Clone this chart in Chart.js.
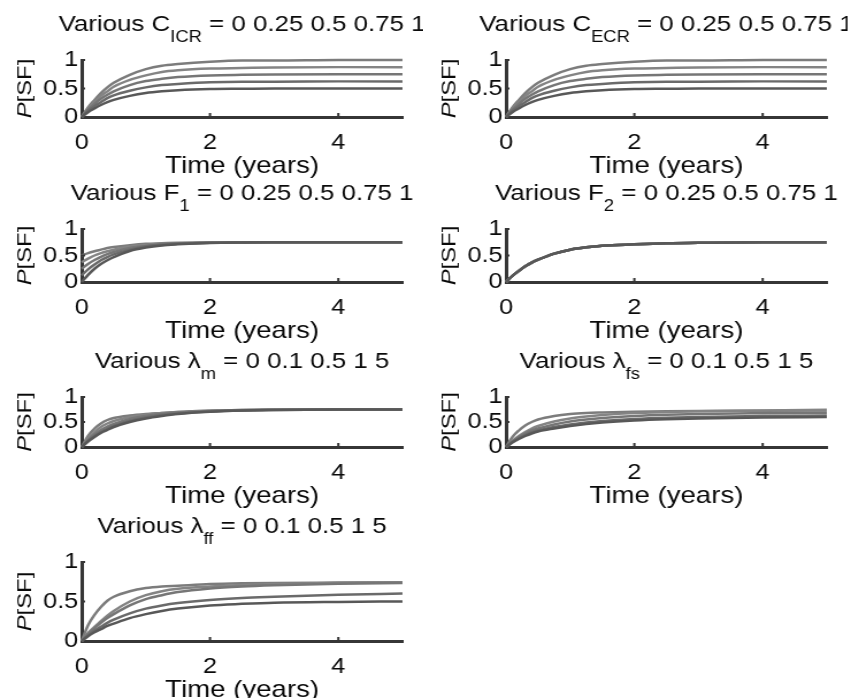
<!DOCTYPE html>
<html>
<head>
<meta charset="utf-8">
<script src="https://cdn.jsdelivr.net/npm/chart.js@4.4.1/dist/chart.umd.min.js"></script>
<style>
  html, body { margin: 0; background: #fff; overflow: hidden; }
  /* a figura toda é levemente esticada na horizontal */
  #figura { position: relative; width: 738px; height: 698px; transform: scaleX(1.15); transform-origin: 0 0; filter: blur(0.45px); }
  #figura canvas { position: absolute; }
</style>
</head>
<body>
<div id="figura"></div>
<script>
// EIXOS

const tempoAnos = [0, 0.1, 0.2, 0.3, 0.4, 0.5, 0.75, 1, 1.25, 1.5, 2, 2.5, 3, 4, 5];
const ticksX = [0, 2, 4];
const ticksY = [0, 0.5, 1];

// P[SF] para C = 0 0.25 0.5 0.75 1 (ICR e ECR dão as mesmas curvas)
const curvasC = [
  [0, 0.085, 0.15, 0.21, 0.26, 0.30, 0.37, 0.42, 0.45, 0.47, 0.49, 0.495, 0.5, 0.5, 0.5],
  [0, 0.11, 0.19, 0.26, 0.33, 0.38, 0.46, 0.52, 0.56, 0.58, 0.61, 0.62, 0.62, 0.625, 0.625],
  [0, 0.13, 0.23, 0.32, 0.39, 0.45, 0.56, 0.63, 0.67, 0.70, 0.73, 0.74, 0.745, 0.75, 0.75],
  [0, 0.15, 0.26, 0.37, 0.45, 0.53, 0.65, 0.73, 0.79, 0.82, 0.85, 0.86, 0.87, 0.875, 0.875],
  [0, 0.17, 0.30, 0.42, 0.52, 0.60, 0.74, 0.84, 0.90, 0.93, 0.97, 0.99, 0.99, 1.0, 1.0],
];

// F1 = 0 0.25 0.5 0.75 1
const curvasF1 = [
  [0, 0.135, 0.25, 0.34, 0.41, 0.47, 0.585, 0.65, 0.69, 0.71, 0.736, 0.745, 0.748, 0.75, 0.75],
  [0.125, 0.24, 0.33, 0.41, 0.47, 0.52, 0.61, 0.67, 0.70, 0.72, 0.739, 0.746, 0.749, 0.75, 0.75],
  [0.25, 0.34, 0.415, 0.475, 0.525, 0.565, 0.64, 0.68, 0.71, 0.725, 0.741, 0.747, 0.749, 0.75, 0.75],
  [0.375, 0.44, 0.50, 0.545, 0.58, 0.61, 0.67, 0.70, 0.72, 0.73, 0.743, 0.747, 0.749, 0.75, 0.75],
  [0.5, 0.545, 0.58, 0.61, 0.64, 0.66, 0.695, 0.72, 0.73, 0.74, 0.745, 0.748, 0.75, 0.75, 0.75],
];

// F2 = 0 0.25 0.5 0.75 1 (curvas sobrepostas)
const curvaF2 = [0, 0.115, 0.21, 0.295, 0.365, 0.42, 0.535, 0.61, 0.655, 0.685, 0.71, 0.73, 0.74, 0.75, 0.75];

// lambda_m = 0 0.1 0.5 1 5
const curvasLm = [
  [0, 0.11, 0.20, 0.28, 0.34, 0.40, 0.50, 0.57, 0.62, 0.66, 0.705, 0.73, 0.74, 0.75, 0.75],
  [0, 0.12, 0.22, 0.30, 0.37, 0.42, 0.52, 0.59, 0.64, 0.67, 0.71, 0.73, 0.74, 0.75, 0.75],
  [0, 0.14, 0.25, 0.34, 0.41, 0.46, 0.56, 0.62, 0.66, 0.69, 0.72, 0.735, 0.745, 0.75, 0.75],
  [0, 0.17, 0.30, 0.40, 0.47, 0.52, 0.60, 0.65, 0.68, 0.70, 0.725, 0.74, 0.745, 0.75, 0.75],
  [0, 0.22, 0.37, 0.47, 0.54, 0.58, 0.63, 0.66, 0.68, 0.70, 0.725, 0.74, 0.745, 0.75, 0.75],
];

// lambda_fs = 0 0.1 0.5 1 5
const curvasLfs = [
  [0, 0.09, 0.16, 0.22, 0.27, 0.31, 0.37, 0.42, 0.46, 0.49, 0.53, 0.555, 0.57, 0.59, 0.60],
  [0, 0.10, 0.18, 0.24, 0.29, 0.33, 0.40, 0.45, 0.49, 0.52, 0.56, 0.585, 0.60, 0.62, 0.63],
  [0, 0.11, 0.20, 0.27, 0.33, 0.37, 0.45, 0.51, 0.55, 0.58, 0.62, 0.645, 0.66, 0.675, 0.685],
  [0, 0.12, 0.22, 0.30, 0.37, 0.42, 0.51, 0.57, 0.61, 0.64, 0.68, 0.70, 0.715, 0.73, 0.745],
  [0, 0.20, 0.33, 0.43, 0.50, 0.55, 0.62, 0.66, 0.68, 0.69, 0.705, 0.715, 0.72, 0.725, 0.73],
];

// lambda_ff = 0 0.1 0.5 1 5
const curvasLff = [
  [0, 0.06, 0.11, 0.15, 0.19, 0.22, 0.29, 0.34, 0.38, 0.41, 0.45, 0.47, 0.485, 0.495, 0.50],
  [0, 0.07, 0.13, 0.18, 0.23, 0.27, 0.35, 0.41, 0.45, 0.48, 0.52, 0.545, 0.56, 0.585, 0.60],
  [0, 0.09, 0.16, 0.23, 0.29, 0.34, 0.45, 0.53, 0.58, 0.62, 0.665, 0.69, 0.705, 0.725, 0.735],
  [0, 0.10, 0.18, 0.25, 0.32, 0.38, 0.50, 0.58, 0.63, 0.66, 0.69, 0.71, 0.72, 0.735, 0.745],
  [0, 0.20, 0.33, 0.43, 0.51, 0.56, 0.63, 0.67, 0.69, 0.70, 0.72, 0.73, 0.735, 0.74, 0.745],
];

// títulos: [antes, subscrito, depois]
const titulos = [
  ["Various C", "ICR", " = 0 0.25 0.5 0.75 1"],
  ["Various C", "ECR", " = 0 0.25 0.5 0.75 1"],
  ["Various F", "1", " = 0 0.25 0.5 0.75 1"],
  ["Various F", "2", " = 0 0.25 0.5 0.75 1"],
  ["Various \u03bb", "m", " = 0 0.1 0.5 1 5"],
  ["Various \u03bb", "fs", " = 0 0.1 0.5 1 5"],
  ["Various \u03bb", "ff", " = 0 0.1 0.5 1 5"],
];
const rotuloX = "Time (years)";

const coresLinhas = ["#585858", "#6a6a6a", "#767676", "#848484", "#7c7c7c"];
const FONTE = "'Liberation Sans', Arial, Helvetica, sans-serif";
const COR_TEXTO = "#0a0a0a";
const COR_EIXO = "#363636";

// TÍTULO COM SUBSCRITO + RÓTULO P[SF] + MARCAS INTERNAS DOS EIXOS

const textoPlugin = {
  id: "textoPainel",
  afterDraw(chart, args, opts) {
    const { ctx, chartArea, scales } = chart;
    const [antes, sub, depois] = opts.titulo;
    const fTit = `22.5px ${FONTE}`;
    const fSub = `16px ${FONTE}`;

    ctx.save();

    // marcas curtas para dentro da área do gráfico
    ctx.strokeStyle = COR_EIXO;
    ctx.lineWidth = 2;
    ctx.beginPath();
    ticksX.slice(1).forEach((v) => {
      const px = scales.x.getPixelForValue(v);
      ctx.moveTo(px, chartArea.bottom);
      ctx.lineTo(px, chartArea.bottom - 4);
    });
    ticksY.slice(1).forEach((v) => {
      const py = scales.y.getPixelForValue(v);
      ctx.moveTo(chartArea.left, py);
      ctx.lineTo(chartArea.left + 3, py);
    });
    ctx.stroke();

    ctx.fillStyle = COR_TEXTO;
    ctx.textBaseline = "alphabetic";
    ctx.textAlign = "left";

    ctx.font = fTit;
    const w1 = ctx.measureText(antes).width;
    const w3 = ctx.measureText(depois).width;
    ctx.font = fSub;
    const w2 = ctx.measureText(sub).width;

    let x = (chartArea.left + chartArea.right) / 2 - (w1 + w2 + w3) / 2;
    const y = chartArea.top - 29;
    ctx.font = fTit;
    ctx.fillText(antes, x, y);
    x += w1;
    ctx.font = fSub;
    ctx.fillText(sub, x, y + 11);
    x += w2;
    ctx.font = fTit;
    ctx.fillText(depois, x, y);

    // eixo y: P em itálico, texto alongado no sentido vertical
    ctx.translate(chartArea.left - 49, (chartArea.top + chartArea.bottom) / 2);
    ctx.rotate(-Math.PI / 2);
    ctx.scale(1.4, 1);
    ctx.textBaseline = "middle";
    const fItal = `italic 17px ${FONTE}`;
    const fNorm = `17px ${FONTE}`;
    ctx.font = fItal;
    const wP = ctx.measureText("P").width;
    ctx.font = fNorm;
    const wR = ctx.measureText("[SF]").width;
    const xr = -(wP + wR) / 2;
    ctx.font = fItal;
    ctx.fillText("P", xr, 0);
    ctx.font = fNorm;
    ctx.fillText("[SF]", xr + wP, 0);
    ctx.restore();
  },
};

// PAINÉIS

const paineis = [
  { col: 0, topo: 60, base: 117, curvas: curvasC },
  { col: 1, topo: 60, base: 117, curvas: curvasC },
  { col: 0, topo: 229, base: 282, curvas: curvasF1 },
  { col: 1, topo: 229, base: 282, curvas: [curvaF2, curvaF2, curvaF2, curvaF2, curvaF2] },
  { col: 0, topo: 397, base: 447, curvas: curvasLm },
  { col: 1, topo: 397, base: 447, curvas: curvasLfs },
  { col: 0, topo: 562, base: 641, curvas: curvasLff },
];

const ESQ = 71, DIR = 18, CIMA = 60, BAIXO = 62, LARG_PLOT = 279;
const figura = document.getElementById("figura");

paineis.forEach((p, i) => {
  const canvas = document.createElement("canvas");
  const alturaPlot = p.base - p.topo;
  canvas.width = ESQ + LARG_PLOT + DIR;
  canvas.height = alturaPlot + CIMA + BAIXO;
  canvas.style.left = (p.col === 0 ? 0 : 369) + "px";
  canvas.style.top = (p.topo - CIMA) + "px";
  canvas.style.width = canvas.width + "px";
  canvas.style.height = canvas.height + "px";
  figura.appendChild(canvas);

  new Chart(canvas, {
    type: "line",
    data: {
      datasets: p.curvas.map((serie, k) => ({
        data: serie.map((v, j) => ({ x: tempoAnos[j], y: v })),
        borderColor: coresLinhas[k],
        borderWidth: 2.5,
        pointRadius: 0,
        cubicInterpolationMode: "monotone",
        clip: false,
      })),
    },
    options: {
      responsive: false,
      animation: false,
      events: [],
      layout: { padding: { top: CIMA, right: DIR, left: 0, bottom: 0 } },
      plugins: {
        legend: { display: false },
        tooltip: { enabled: false },
        textoPainel: { titulo: titulos[i] },
      },
      scales: {
        x: {
          type: "linear",
          min: 0,
          max: 5,
          afterBuildTicks: (s) => { s.ticks = ticksX.map((v) => ({ value: v })); },
          afterFit: (s) => { s.height = BAIXO; },
          grid: { display: false, drawTicks: false },
          border: { display: true, color: COR_EIXO, width: 3 },
          ticks: {
            padding: 13,
            autoSkip: false,
            color: COR_TEXTO,
            font: { family: FONTE, size: 22 },
            callback: (v) => String(v),
            maxRotation: 0,
          },
          title: {
            display: true,
            text: rotuloX,
            color: COR_TEXTO,
            font: { family: FONTE, size: 24 },
            padding: { top: 0, bottom: -2 },
          },
        },
        y: {
          min: 0,
          max: 1,
          afterBuildTicks: (s) => { s.ticks = ticksY.map((v) => ({ value: v })); },
          afterFit: (s) => { s.width = ESQ; },
          grid: { display: false, drawTicks: false },
          border: { display: true, color: COR_EIXO, width: 3 },
          ticks: {
            padding: 3,
            autoSkip: false,
            color: COR_TEXTO,
            font: { family: FONTE, size: 22 },
            callback: (v) => String(v),
          },
        },
      },
    },
    plugins: [textoPlugin],
  });
});
</script>
</body>
</html>
